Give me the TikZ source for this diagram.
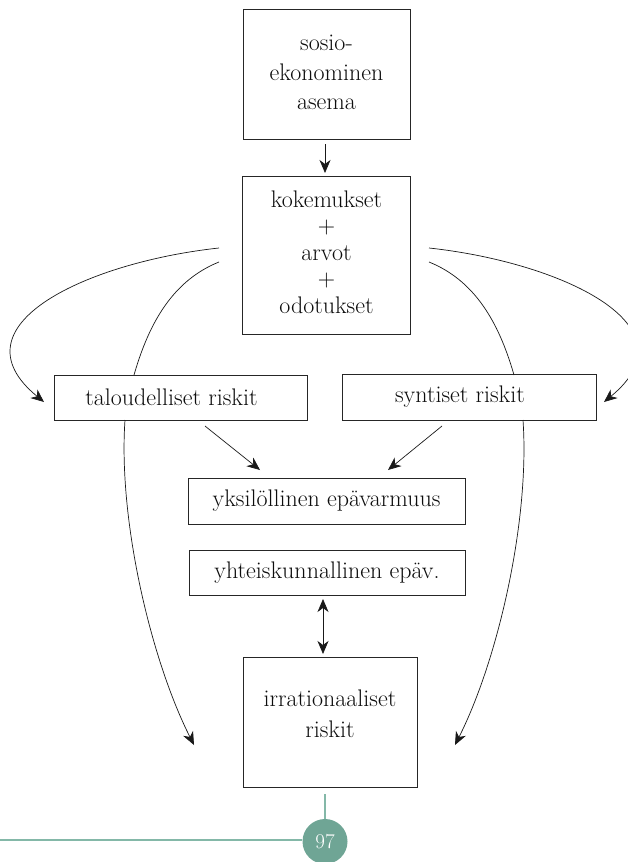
\documentclass[tikz,border=0pt]{standalone}
\usepackage{fontspec}
\usetikzlibrary{arrows.meta,calc}
\definecolor{pagecirc}{HTML}{6FA595}
\definecolor{pageline}{HTML}{84B8A8}
\begin{document}
\begin{tikzpicture}[x=1pt,y=-1pt,
  box/.style={draw=black!85, line width=0.8pt, fill=white, inner sep=0pt, rectangle},
  txt/.style={font=\fontsize{24}{23}\selectfont, text=black!95, align=center},
  tip/.tip={Stealth[length=13pt,width=11pt,inset=4pt]},
  arr/.style={-tip, line width=0.7pt, black!90},
  curve/.style={line width=0.7pt, black!90},
]
\useasboundingbox (0,0) rectangle (628,862);

% boxes
\node[box, minimum width=167pt, minimum height=130pt,
  label={[txt, yshift=1.5pt, font=\fontsize{24}{29.5}\selectfont]center:sosio-\\ekonominen\\asema}] (ses) at (326.5,74) {};
\node[box, minimum width=168pt, minimum height=158pt,
  label={[txt, yshift=3pt, font=\fontsize{24}{26.5}\selectfont]center:kokemukset\\+\\arvot\\+\\odotukset}] (kok) at (326.5,255) {};
\node[box, minimum width=253pt, minimum height=45pt,
  label={[txt, xshift=-9pt]center:taloudelliset riskit}] (tal) at (180.5,397.5) {};
\node[box, minimum width=254pt, minimum height=46pt,
  label={[txt, xshift=-9pt]center:syntiset riskit}] (syn) at (469,397) {};
\node[box, minimum width=277pt, minimum height=46pt,
  label={[txt]center:yksilöllinen epävarmuus}] (yks) at (326.5,501) {};
\node[box, minimum width=276pt, minimum height=45pt,
  label={[txt]center:yhteiskunnallinen epäv.}] (yht) at (327,572.5) {};
\node[box, minimum width=174pt, minimum height=130pt,
  label={[txt, yshift=8pt, font=\fontsize{24}{31}\selectfont]center:irrationaaliset\\riskit}] (irr) at (330,722) {};

% coordinates for free ends
\coordinate (lo1) at (219,248);
\coordinate (lo2) at (44,402);
\coordinate (li1) at (219,262);
\coordinate (li2) at (134,375);
\coordinate (li3) at (125,420);
\coordinate (li4) at (194,745);
\coordinate (ro1) at (429,248);
\coordinate (ro2) at (604,402);
\coordinate (ri1) at (429,262);
\coordinate (ri2) at (514,375);
\coordinate (ri3) at (523,420);
\coordinate (ri4) at (455,745);
\coordinate (dl1) at (205,426);
\coordinate (dl2) at (260,470);
\coordinate (dr1) at (442,426);
\coordinate (dr2) at (388,470);
\coordinate (ua) at (325,144);
\coordinate (ub) at (325,173);
\coordinate (da) at (323,599);
\coordinate (db) at (323,654);

% connectors
\draw[arr] (ua) -- (ub);
\draw[arr] (lo1) .. controls (89,262) and (-50,325) .. (lo2);
\draw[arr] (ro1) .. controls (559,262) and (698,325) .. (ro2);
\draw[curve] (li1) .. controls (169,282) and (147,330) .. (li2);
\draw[arr] (li3) .. controls (118,520) and (151,660) .. (li4);
\draw[curve] (ri1) .. controls (479,282) and (501,330) .. (ri2);
\draw[arr] (ri3) .. controls (530,520) and (498,660) .. (ri4);
\draw[arr] (dl1) -- (dl2);
\draw[arr] (dr1) -- (dr2);
\draw[arr, tip-tip] (da) -- (db);

% page number
\node[circle, fill=pagecirc, minimum size=45pt, inner sep=0pt, text=white,
  font=\fontsize{21}{21}\selectfont] (pn) at (325,841.5) {97};
\coordinate (pv) at (325,794);
\coordinate (ph) at (0,840);
\draw[pageline, line width=1.2pt] (ph) -- (ph -| pn.west);
\draw[pageline, line width=1.2pt] (pv) -- (pn.north);
\end{tikzpicture}
\end{document}
